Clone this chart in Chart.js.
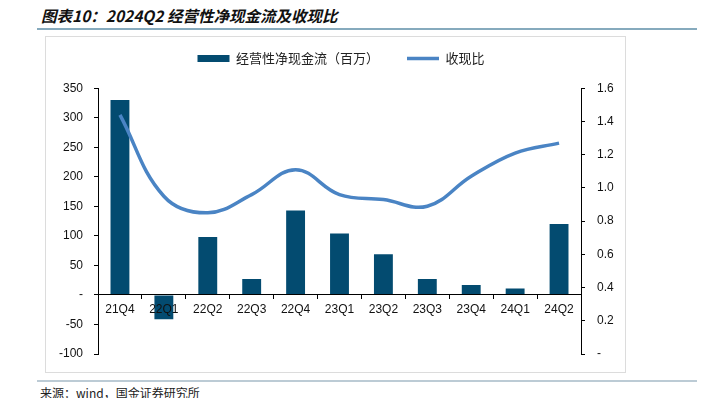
<!DOCTYPE html>
<html>
<head>
<meta charset="utf-8">
<script src="https://cdn.jsdelivr.net/npm/chart.js@4/dist/chart.umd.min.js"></script>
<style>
  html, body { margin: 0; padding: 0; background: #fff; }
  #wrap { position: relative; width: 702px; height: 398px; overflow: hidden; }
  #title { position: absolute; left: 41px; top: 4px; font: italic bold 15.5px "Noto Sans CJK SC", sans-serif; color: #111; white-space: nowrap; }
  #tline { position: absolute; left: 37px; top: 28px; width: 660px; height: 2px; background: #86aabd; }
  #box { position: absolute; left: 45px; top: 36px; width: 579px; height: 335px; border: 1px solid #dcdcdc; }
  #fline { position: absolute; left: 37px; top: 380px; width: 660px; height: 1.5px; background: #bccbd5; }
  #src { position: absolute; left: 40px; top: 384px; font: 12px "Noto Sans CJK SC", sans-serif; color: #222; white-space: nowrap; }
  #c { position: absolute; left: 0; top: 0; }
</style>
</head>
<body>
<div id="wrap">
  <div id="title">图表10：2024Q2 经营性净现金流及收现比</div>
  <div id="tline"></div>
  <div id="box"></div>
  <div id="fline"></div>
  <div id="src">来源：wind，国金证券研究所</div>
  <canvas id="c" width="702" height="398"></canvas>
</div>
<script>
const categories = ['21Q4','22Q1','22Q2','22Q3','22Q4','23Q1','23Q2','23Q3','23Q4','24Q1','24Q2'];
const cashFlow = [330, -41, 98, 27, 143, 104, 69, 27, 17, 11, 120];
const cashRatio = [1.44, 0.95, 0.85, 0.96, 1.11, 0.96, 0.93, 0.89, 1.07, 1.21, 1.27];
const leftTicks = [-100, -50, 0, 50, 100, 150, 200, 250, 300, 350];
const rightTicks = [0, 0.2, 0.4, 0.6, 0.8, 1.0, 1.2, 1.4, 1.6];
const seriesNames = ['经营性净现金流（百万）', '收现比'];

const BAR_COLOR = '#034b70';
const LINE_COLOR = '#4a84c4';
const tickFont = { family: '"Liberation Sans", Arial, sans-serif', size: 12 };

const ctx = document.getElementById('c');
const chart = new Chart(ctx, {
  data: {
    labels: categories,
    datasets: [
      {
        type: 'bar',
        label: seriesNames[0],
        data: cashFlow,
        backgroundColor: BAR_COLOR,
        borderWidth: 0,
        categoryPercentage: 1,
        barPercentage: 0.43,
        yAxisID: 'y',
        order: 1
      },
      {
        type: 'line',
        label: seriesNames[1],
        data: cashRatio,
        borderColor: LINE_COLOR,
        backgroundColor: LINE_COLOR,
        borderWidth: 3.5,
        pointRadius: 0,
        tension: 0.4,
        fill: false,
        yAxisID: 'y1',
        order: 0
      }
    ]
  },
  options: {
    responsive: false,
    animation: false,
    layout: { padding: { left: 0, right: 20, top: 24, bottom: 44 } },
    plugins: {
      tooltip: { enabled: false },
      legend: {
        position: 'top',
        labels: {
          font: { family: '"Noto Sans CJK SC", sans-serif', size: 13 },
          color: '#222',
          padding: 28,
          usePointStyle: true,
          pointStyleWidth: 32,
          boxHeight: 7,
          generateLabels: (ch) => ch.data.datasets.map((ds, i) => ({
            text: ds.label,
            datasetIndex: i,
            fillStyle: ds.type === 'bar' ? BAR_COLOR : LINE_COLOR,
            strokeStyle: ds.type === 'bar' ? BAR_COLOR : LINE_COLOR,
            lineWidth: ds.type === 'bar' ? 0 : 3.5,
            pointStyle: ds.type === 'bar' ? 'rect' : 'line',
            fontColor: '#222',
            hidden: false
          }))
        }
      }
    },
    scales: {
      x: {
        type: 'category',
        position: { y: 0 },
        offset: true,
        grid: { display: true, offset: true, drawOnChartArea: false, tickLength: 4, color: '#000', z: 1 },
        border: { display: true, color: '#000', width: 1, z: 1 },
        ticks: { font: tickFont, color: '#111', padding: 4, maxRotation: 0, z: 1 },
        afterFit: (s) => { s.height = 0; }
      },
      y: {
        type: 'linear',
        position: 'left',
        min: -100,
        max: 350,
        afterBuildTicks: (s) => { s.ticks = leftTicks.map(v => ({ value: v })); },
        grid: { display: true, drawOnChartArea: false, tickLength: 4, color: '#000' },
        border: { display: true, color: '#000', width: 1 },
        ticks: {
          font: tickFont, color: '#111', padding: 11,
          callback: (v) => v === 0 ? '-' : String(v)
        },
        afterFit: (s) => { s.width = 98; }
      },
      y1: {
        type: 'linear',
        position: 'right',
        min: 0,
        max: 1.6,
        afterBuildTicks: (s) => { s.ticks = rightTicks.map(v => ({ value: v })); },
        grid: { display: true, drawOnChartArea: false, tickLength: 4, color: '#000' },
        border: { display: true, color: '#000', width: 1 },
        ticks: {
          font: tickFont, color: '#111', padding: 12,
          callback: (v) => v === 0 ? '-' : Number(v).toFixed(1)
        },
        afterFit: (s) => { s.width = 101; }
      }
    }
  }
});
// enlarge legend box so the plot area starts at the right height
const origFit = chart.legend.fit;
chart.legend.fit = function () { origFit.call(this); this.height = 64.3; };
chart.update('none');
</script>
</body>
</html>
